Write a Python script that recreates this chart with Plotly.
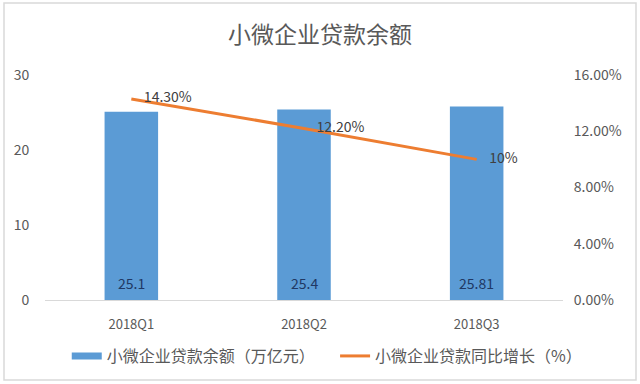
import plotly.graph_objects as go

categories = ["2018Q1", "2018Q2", "2018Q3"]
balance = [25.1, 25.4, 25.81]
growth = [14.30, 12.20, 10.0]
growth_labels = ["14.30%", "12.20%", "10%"]
balance_labels = ["25.1", "25.4", "25.81"]
left_ticks = [0, 10, 20, 30]
right_ticks = [0, 4, 8, 12, 16]
right_tick_text = ["0.00%", "4.00%", "8.00%", "12.00%", "16.00%"]
bar_name = "小微企业贷款余额（万亿元）"
line_name = "小微企业贷款同比增长（%）"

FONT = "Noto Sans CJK SC, Liberation Sans, sans-serif"
GRAY = "#595959"
BLUE = "#5B9BD5"
ORANGE = "#ED7D31"

fig = go.Figure()
fig.add_trace(go.Bar(
    x=categories, y=balance, name=bar_name, showlegend=False,
    marker=dict(color=BLUE, line=dict(width=0)),
    width=0.31,
))
fig.add_trace(go.Scatter(
    x=categories, y=growth, name=line_name, yaxis="y2", showlegend=False,
    mode="lines+text", line=dict(color=ORANGE, width=3),
    text=["    " + t for t in growth_labels], textposition="middle right",
    textfont=dict(color="#404040", size=14, family=FONT),
    cliponaxis=False,
))
# legend-only entries (wide blue swatch, orange line)
fig.add_trace(go.Scatter(x=[None], y=[None], mode="lines", name=bar_name,
                         line=dict(color=BLUE, width=7), legend="legend"))
fig.add_trace(go.Scatter(x=[None], y=[None], mode="lines", name=line_name,
                         line=dict(color=ORANGE, width=3), legend="legend2"))

for c, v, t in zip(categories, balance, balance_labels):
    fig.add_annotation(x=c, y=0, text=t, showarrow=False, yanchor="middle",
                       yshift=17, font=dict(color="#203864", size=14, family=FONT))

legend_style = dict(orientation="h", xanchor="left", y=-0.249, yanchor="middle",
                    font=dict(size=16, color=GRAY), itemwidth=30,
                    bgcolor="rgba(0,0,0,0)")

fig.update_layout(
    width=640, height=384,
    margin=dict(l=45, r=77, t=75, b=84, autoexpand=False),
    paper_bgcolor="white", plot_bgcolor="white",
    font=dict(family=FONT, color=GRAY, size=13),
    title=dict(text="小微企业贷款余额", x=0.5, xanchor="center",
               y=1 - 35 / 384, yanchor="middle",
               font=dict(size=23, color=GRAY, family=FONT)),
    xaxis=dict(showgrid=False, showline=True, linecolor="#D9D9D9", linewidth=1,
               ticks="outside", ticklen=12, tickcolor="rgba(0,0,0,0)",
               tickfont=dict(size=13, color=GRAY), range=[-0.5, 2.5]),
    yaxis=dict(range=[0, 30], tickvals=left_ticks, showgrid=False, zeroline=False,
               showline=False, ticks="outside", ticklen=12, tickcolor="rgba(0,0,0,0)",
               tickfont=dict(size=14, color=GRAY)),
    yaxis2=dict(range=[0, 16], tickvals=right_ticks, ticktext=right_tick_text,
                overlaying="y", side="right", showgrid=False, zeroline=False,
                showline=False, ticks="outside", ticklen=7, tickcolor="rgba(0,0,0,0)",
                tickfont=dict(size=14, color=GRAY)),
    legend=dict(x=0.042, **legend_style),
    legend2=dict(x=0.56, **legend_style),
    showlegend=True,
)

fig.add_shape(type="rect", xref="paper", yref="paper",
              x0=(4 - 45) / 518, x1=(636 - 45) / 518,
              y0=(300 - 380) / 225, y1=(300 - 3) / 225,
              line=dict(color="#D9D9D9", width=1.5), fillcolor="rgba(0,0,0,0)",
              layer="below")

fig.write_html("out.html", config={"displayModeBar": False},
               post_script="document.body.style.margin='0';document.body.style.overflow='hidden';")
